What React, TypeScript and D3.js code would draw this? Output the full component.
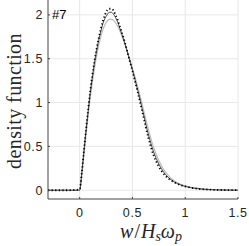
import React from "react";
import * as d3 from "d3";

// w / (Hs * wp) samples
const xs = [-0.3, -0.2, -0.1, 0, 0.02, 0.04, 0.06, 0.08, 0.1, 0.12, 0.14, 0.16, 0.18, 0.2, 0.22, 0.24, 0.26, 0.28, 0.3, 0.32, 0.34, 0.36, 0.38, 0.4, 0.43, 0.46, 0.5, 0.55, 0.6, 0.65, 0.7, 0.75, 0.8, 0.85, 0.9, 0.95, 1.0, 1.1, 1.2, 1.3, 1.4, 1.5];
// measured (dotted)
const measured = [0, 0, 0, 0.01, 0.2, 0.45, 0.69, 0.92, 1.13, 1.31, 1.47, 1.61, 1.73, 1.84, 1.93, 2.0, 2.05, 2.07, 2.07, 2.05, 2.0, 1.94, 1.87, 1.8, 1.68, 1.54, 1.36, 1.12, 0.86, 0.6, 0.4, 0.27, 0.18, 0.125, 0.088, 0.062, 0.043, 0.02, 0.009, 0.004, 0.002, 0.001];
// model 1 (black)
const modelA = [0, 0, 0, 0, 0.2, 0.44, 0.68, 0.9, 1.11, 1.29, 1.45, 1.59, 1.71, 1.81, 1.9, 1.96, 2.0, 2.03, 2.03, 2.01, 1.97, 1.92, 1.85, 1.78, 1.67, 1.54, 1.37, 1.14, 0.89, 0.64, 0.44, 0.3, 0.2, 0.135, 0.092, 0.063, 0.043, 0.02, 0.009, 0.004, 0.002, 0.001];
// model 2 (grey)
const modelB = [0, 0, 0, 0, 0.17, 0.4, 0.63, 0.85, 1.05, 1.23, 1.39, 1.53, 1.65, 1.75, 1.83, 1.89, 1.93, 1.95, 1.95, 1.94, 1.91, 1.87, 1.82, 1.76, 1.66, 1.55, 1.39, 1.18, 0.94, 0.7, 0.49, 0.34, 0.23, 0.155, 0.105, 0.072, 0.05, 0.024, 0.011, 0.005, 0.002, 0.001];

const xTicks = [0, 0.5, 1, 1.5];
const yTicks = [0, 0.5, 1, 1.5, 2];

const W = 249;
const H = 246;
const left = 48;
const right = 238;
const top = 0;
const bottom = 199;

export default function App() {
  const x = d3.scaleLinear().domain([-0.3, 1.5]).range([left, right]);
  const y = d3.scaleLinear().domain([-0.1, 2.17]).range([bottom, top]);

  const line = (vals: number[]) =>
    d3
      .line<number>()
      .x((_, i) => x(xs[i]))
      .y((d) => y(d))
      .curve(d3.curveMonotoneX)(vals) || "";

  const sans = "Liberation Sans, Arial, sans-serif";
  const serif = "Liberation Serif, Times New Roman, serif";

  return (
    <svg
      width={W}
      height={H}
      style={{ position: "absolute", left: 0, top: 0, background: "#fff" }}
    >
      {/* grid */}
      {xTicks.map((t) => (
        <line key={"gx" + t} x1={x(t)} x2={x(t)} y1={top} y2={bottom} stroke="#e8e8e8" strokeWidth={1} />
      ))}
      {yTicks.map((t) => (
        <line key={"gy" + t} x1={left} x2={right} y1={y(t)} y2={y(t)} stroke="#e8e8e8" strokeWidth={1} />
      ))}

      {/* curves */}
      <path d={line(modelB)} fill="none" stroke="#bdbdbd" strokeWidth={1.2} />
      <path d={line(modelA)} fill="none" stroke="#222" strokeWidth={0.8} />
      <path
        d={line(measured)}
        fill="none"
        stroke="#000"
        strokeWidth={1.8}
        strokeDasharray="1.2,2.4"
      />

      {/* axes */}
      <line x1={left} x2={right} y1={bottom} y2={bottom} stroke="#444" strokeWidth={1} />
      <line x1={left} x2={left} y1={top} y2={bottom} stroke="#444" strokeWidth={1} />
      {xTicks.map((t) => (
        <g key={"xt" + t}>
          <line x1={x(t)} x2={x(t)} y1={bottom} y2={bottom - 2} stroke="#444" />
          <text x={x(t)} y={bottom + 18} textAnchor="middle" fontFamily={sans} fontSize={12.5} letterSpacing={0.6} fill="#262626">
            {t}
          </text>
        </g>
      ))}
      {yTicks.map((t) => (
        <g key={"yt" + t}>
          <line x1={left} x2={left + 2} y1={y(t)} y2={y(t)} stroke="#444" />
          <text x={left - 5} y={y(t) + 4.5} textAnchor="end" fontFamily={sans} fontSize={12.5} letterSpacing={0.6} fill="#262626">
            {t}
          </text>
        </g>
      ))}

      <text x={52} y={19} fontFamily={sans} fontSize={13} fill="#000">
        #7
      </text>

      <text
        transform={`translate(21,101) rotate(-90)`}
        textAnchor="middle"
        fontFamily={serif}
        fontSize={20}
        letterSpacing={0.4}
        fill="#262626"
      >
        density function
      </text>

      <text x={151} y={238} textAnchor="middle" fontFamily={serif} fontSize={20} fill="#262626">
        <tspan fontStyle="italic">w</tspan>
        <tspan dx={1}>/</tspan>
        <tspan fontStyle="italic" dx={1}>H</tspan>
        <tspan fontStyle="italic" fontSize={14} dy={3}>s</tspan>
        <tspan fontStyle="italic" dy={-3}>ω</tspan>
        <tspan fontStyle="italic" fontSize={14} dy={3}>p</tspan>
      </text>
    </svg>
  );
}
